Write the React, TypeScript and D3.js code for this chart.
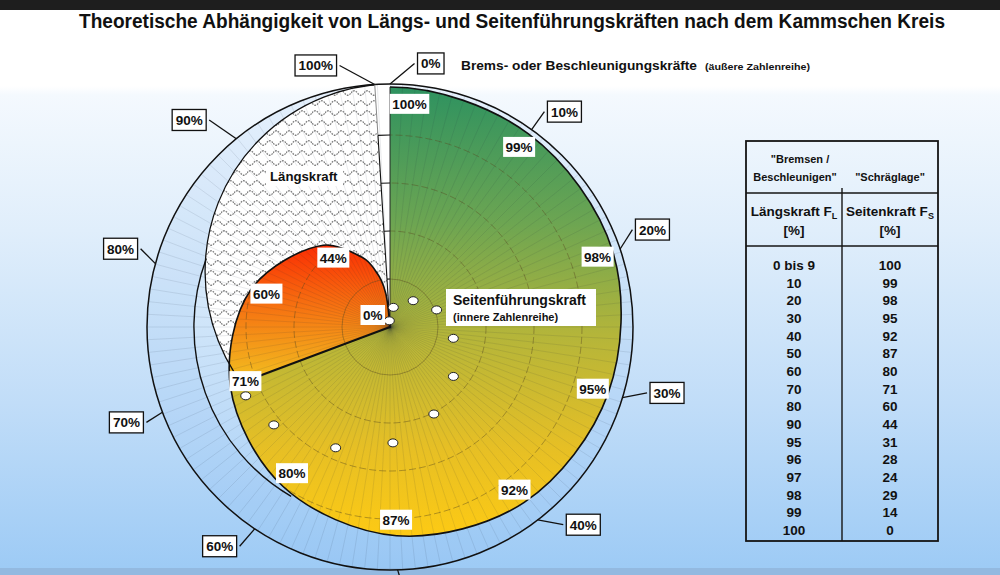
import React from 'react';
import * as d3 from 'd3';

// Kammscher Kreis: Längskraft (äußere Zahlenreihe) -> Seitenführungskraft (innere Zahlenreihe), in %
const longForce = [0, 10, 20, 30, 40, 50, 60, 70, 80, 90, 95, 96, 97, 98, 99, 100];
const sideForce = [100, 99, 98, 95, 92, 87, 80, 71, 60, 44, 31, 28, 24, 20, 14, 0];

// table as printed
const tableLong = ['0 bis 9', '10', '20', '30', '40', '50', '60', '70', '80', '90', '95', '96', '97', '98', '99', '100'];
const tableSide = ['100', '99', '98', '95', '92', '87', '80', '71', '60', '44', '31', '28', '24', '29', '14', '0'];

// labelled points of the inner curve (Längskraft %)
const curveLabels = [0, 10, 20, 30, 40, 50, 60, 70, 80, 90, 100];
// outer scale
const outerTicks = [0, 10, 20, 30, 40, 50, 60, 70, 80, 90, 100];
// white markers (Längs-%, Seiten-%)
const markerLong = [2.7, 11.6, 19.6, 28.1, 35.9, 43.0, 50.1, 57.3, 64.5, 68.6, 99.2];
const markerSide = [8.3, 14.6, 20.7, 26.8, 33.5, 40.6, 48.3, 55.2, 63.3, 66.6, 2.6];
const rings = [20, 40, 60, 80];

// leader lines of the outer labels: tilt against the radius (deg) and length (px)
const leaderTilt = [50, 0, -39, -28, -42, -15, 7, -12, 30, -16, -58];
const leaderLen = [32, 22, 23, 25, 26, 16, 23, 19, 21, 33, 40];

const W = 1000;
const H = 575;
const CX = 390;
const CY = 327;
const FONT = '"Liberation Sans", Arial, Helvetica, sans-serif';

const charW = (c: string) => (/[0-9]/.test(c) ? 0.556 : c === '%' ? 0.889 : c === ' ' ? 0.278 : 0.6);
const textWidth = (s: string, fs: number) => s.split('').reduce((a, c) => a + charW(c), 0) * fs;

type Pt = { L: number; S: number };

const App: React.FC = () => {
  const deg = Math.PI / 180;
  const aScale = d3.scaleLinear().domain([0, 100]).range([0, 2 * Math.PI * 0.99]);
  const rScale = d3.scaleLinear().domain([0, 100]).range([0, 240]);
  const rA = rScale(101.25);
  const rB = rScale(81.7);
  const hc = { x: 3, y: -rScale(23), r: rScale(78.3) }; // Längskraft-Kreis

  const pol = (a: number, r: number): [number, number] => [Math.sin(a) * r, -Math.cos(a) * r];
  const arcPath = (r: number, a0: number, a1: number) => {
    const p = d3.path();
    p.arc(0, 0, r, a0 - Math.PI / 2, a1 - Math.PI / 2);
    return p.toString();
  };
  const sector = (r0: number, r1: number, a0: number, a1: number) =>
    d3.arc<any>()({ innerRadius: r0, outerRadius: r1, startAngle: a0, endAngle: a1 }) as string;

  const pts: Pt[] = longForce.map((L, i) => ({ L, S: sideForce[i] }));
  // braking / accelerating symmetry: the mirrored 10 % point only steers the tangent at 0 %
  const guide: Pt[] = [{ L: -pts[1].L, S: pts[1].S }, ...pts, pts[pts.length - 1]];
  const lineGen = d3
    .lineRadial<Pt>()
    .angle((d) => aScale(d.L))
    .radius((d) => rScale(d.S))
    .curve(d3.curveCatmullRomOpen);

  const outline = lineGen(guide) as string;
  const curveArea = outline + 'L0,0Z';

  const greenWedge = sector(0, 400, aScale(0), aScale(70));
  const redWedge = sector(0, 400, aScale(70), aScale(100));
  const hatchWedge = sector(0, 400, aScale(70), aScale(100));
  const gapWedge = sector(0, rA, aScale(100), 2 * Math.PI);
  const bSector = sector(0, rB, aScale(59), aScale(81.5));

  const spokes = d3.range(0, 360, 3).map((d) => d * deg);
  const line70 = pol(aScale(70), rScale(sideForce[longForce.indexOf(70)]));

  const lbl = { fontFamily: FONT, fontWeight: 700, fill: '#111' } as const;

  return (
    <svg width={W} height={H} style={{ position: 'absolute', left: 0, top: 0 }} viewBox={`0 0 ${W} ${H}`}>
      <defs>
        <linearGradient id="bg" gradientUnits="userSpaceOnUse" x1="0" y1="0" x2="0" y2={H}>
          <stop offset="0" stopColor="#ffffff" />
          <stop offset="0.15" stopColor="#ffffff" />
          <stop offset="0.165" stopColor="#f4f9fe" />
          <stop offset="0.4" stopColor="#e0eefb" />
          <stop offset="0.7" stopColor="#c1ddf8" />
          <stop offset="1" stopColor="#9ccaf5" />
        </linearGradient>
        <linearGradient id="bgLocal" gradientUnits="userSpaceOnUse" x1="0" y1={-CY} x2="0" y2={H - CY}>
          <stop offset="0" stopColor="#ffffff" />
          <stop offset="0.15" stopColor="#ffffff" />
          <stop offset="0.165" stopColor="#f4f9fe" />
          <stop offset="0.4" stopColor="#e0eefb" />
          <stop offset="0.7" stopColor="#c1ddf8" />
          <stop offset="1" stopColor="#9ccaf5" />
        </linearGradient>
        <linearGradient id="green" gradientUnits="userSpaceOnUse" x1="0" y1={-240} x2="0" y2={210}>
          <stop offset="0" stopColor="#2e9260" />
          <stop offset="0.3" stopColor="#6ca552" />
          <stop offset="0.55" stopColor="#b4b53a" />
          <stop offset="0.8" stopColor="#e6bf25" />
          <stop offset="1" stopColor="#fdca14" />
        </linearGradient>
        <linearGradient id="red" gradientUnits="userSpaceOnUse" x1="0" y1={-92} x2="0" y2={55}>
          <stop offset="0" stopColor="#fb2200" />
          <stop offset="0.45" stopColor="#f66c10" />
          <stop offset="1" stopColor="#f2c020" />
        </linearGradient>
        <pattern id="wave" width="13" height="20" patternUnits="userSpaceOnUse">
          <path d="M0,6 q3.25,-4.5 6.5,0 t6.5,0" fill="none" stroke="#808080" strokeWidth="1.3" strokeDasharray="1.8 1" />
          <path d="M-6.5,16 q3.25,-4.5 6.5,0 t6.5,0 t6.5,0" fill="none" stroke="#808080" strokeWidth="1.3" strokeDasharray="1.8 1" />
        </pattern>
        <clipPath id="clipGreen"><path d={greenWedge} /></clipPath>
        <clipPath id="clipRed"><path d={redWedge} /></clipPath>
        <clipPath id="clipHatch"><path d={hatchWedge} /></clipPath>
        <clipPath id="clipColor"><path d={curveArea} /></clipPath>
      </defs>

      <rect x={0} y={0} width={W} height={H} fill="url(#bg)" />
      <rect x={0} y={0} width={W} height={10} fill="#1e1e1e" />
      <rect x={0} y={568} width={W} height={7} fill="#93b9e0" />

      <g transform={`translate(${CX},${CY})`}>
        {/* outer band */}
        <circle r={rA} fill="rgba(120,180,240,0.13)" />
        <path d={bSector} fill="url(#bgLocal)" />

        {/* Längskraft area */}
        <g clipPath="url(#clipHatch)">
          <circle cx={hc.x} cy={hc.y} r={hc.r} fill="#ffffff" />
          <circle cx={hc.x} cy={hc.y} r={hc.r} fill="url(#wave)" />
        </g>
        <path d={gapWedge} fill="#ffffff" />

        {/* Seitenführungskraft area */}
        <g clipPath="url(#clipGreen)">
          <path d={curveArea} fill="url(#green)" />
        </g>
        <g clipPath="url(#clipRed)">
          <path d={curveArea} fill="url(#red)" />
        </g>

        <g clipPath="url(#clipColor)" fill="none">
          {rings.map((s, i) => (
            <circle
              key={s}
              r={rScale(s)}
              stroke="#5a4a20"
              strokeOpacity={0.55}
              strokeWidth={0.8}
              strokeDasharray={i === 0 ? undefined : '7 3'}
            />
          ))}
        </g>

        {spokes.map((a, i) => {
          const [x, y] = pol(a, rA);
          return <line key={i} x1={0} y1={0} x2={x} y2={y} stroke="#1a2a40" strokeOpacity={0.17} strokeWidth={0.6} />;
        })}

        {/* outlines */}
        <circle r={rA} fill="none" stroke="#111" strokeWidth={1.5} />
        <path d={arcPath(rB, aScale(59), aScale(81.5))} fill="none" stroke="#111" strokeWidth={1.4} />
        <g clipPath="url(#clipHatch)">
          <circle cx={hc.x} cy={hc.y} r={hc.r} fill="none" stroke="#111" strokeWidth={1.3} />
        </g>
        <path d={outline} fill="none" stroke="#111" strokeWidth={1.6} />
        <line x1={0} y1={0} x2={line70[0]} y2={line70[1]} stroke="#111" strokeWidth={2.2} />
        <line x1={0} y1={0} x2={0} y2={-rScale(100)} stroke="#222" strokeWidth={0.9} />
        {(() => {
          const [x80, y80] = pol(aScale(100), rScale(80));
          const [xt, yt] = pol(aScale(100), rA);
          return (
            <g>
              <line x1={0} y1={0} x2={x80} y2={y80} stroke="#111" strokeWidth={1.1} />
              <line x1={x80} y1={y80} x2={xt} y2={yt} stroke="#888" strokeWidth={1} />
            </g>
          );
        })()}
        {rings.map((s) => {
          const [x, y] = pol(aScale(100), rScale(s));
          return <line key={s} x1={x} y1={y} x2={0} y2={-rScale(s)} stroke="#111" strokeWidth={1.1} />;
        })}

        {/* markers */}
        {markerLong.map((L, i) => {
          const [x, y] = pol(aScale(L), rScale(markerSide[i]));
          return <ellipse key={i} cx={x} cy={y} rx={5} ry={4} fill="#fff" stroke="#222" strokeWidth={1} />;
        })}

        {/* inner labels */}
        {curveLabels.map((L) => {
          const S = sideForce[longForce.indexOf(L)];
          const txt = `${S}%`;
          const bw = textWidth(txt, 13.5) + 5;
          const bh = 20;
          let x: number;
          let y: number;
          if (S === 0) {
            x = -bw / 2 - 5;
            y = -12;
          } else {
            [x, y] = pol(aScale(L) + (L === 0 ? 5 * deg : 0), rScale(S) - 16);
          }
          return (
            <g key={L}>
              <rect x={x - bw / 2} y={y - bh / 2} width={bw} height={bh} fill="#fff" />
              <text x={x} y={y + 5} textAnchor="middle" fontSize={13.5} {...lbl}>{txt}</text>
            </g>
          );
        })}

        {/* outer labels */}
        {outerTicks.map((L, i) => {
          const a = aScale(L);
          const [sx, sy] = pol(a, rA);
          const d = a + leaderTilt[i] * deg;
          const ex = sx + Math.sin(d) * leaderLen[i];
          const ey = sy - Math.cos(d) * leaderLen[i];
          const txt = `${L}%`;
          const bw = textWidth(txt, 13.5) + 7;
          const bh = 21;
          const right = Math.sin(d) >= 0;
          const bx = right ? ex + 3 : ex - 3 - bw;
          const by = ey - bh / 2;
          const visible = CY + by < H - 4;
          return (
            <g key={L}>
              <line x1={sx} y1={sy} x2={ex} y2={ey} stroke="#111" strokeWidth={1.3} />
              {visible && (
                <g>
                  <rect x={bx} y={by} width={bw} height={bh} fill="#fff" stroke="#111" strokeWidth={1.3} />
                  <text x={bx + bw / 2} y={by + bh / 2 + 5} textAnchor="middle" fontSize={13.5} {...lbl}>{txt}</text>
                </g>
              )}
            </g>
          );
        })}
      </g>

      {/* annotations */}
      <rect x={446} y={289} width={150} height={37} fill="#fff" />
      <text x={453} y={305} fontSize={14} {...lbl}>Seitenführungskraft</text>
      <text x={453} y={321} fontSize={11} {...lbl}>(innere Zahlenreihe)</text>
      <rect x={266} y={166} width={77} height={20} fill="#fff" />
      <text x={270} y={181} fontSize={13.2} {...lbl}>Längskraft</text>

      <text x={512} y={28} textAnchor="middle" fontSize={20} textLength={866} lengthAdjust="spacingAndGlyphs" {...lbl}>
        Theoretische Abhängigkeit von Längs- und Seitenführungskräften nach dem Kammschen Kreis
      </text>
      <text x={461} y={70} fontSize={12.5} textLength={236} lengthAdjust="spacingAndGlyphs" {...lbl}>
        Brems- oder Beschleunigungskräfte
      </text>
      <text x={705} y={70} fontSize={9.5} textLength={105} lengthAdjust="spacingAndGlyphs" {...lbl}>
        (äußere Zahlenreihe)
      </text>

      {/* table */}
      <g>
        <rect x={746} y={141} width={192} height={400} fill="none" stroke="#151515" strokeWidth={1.8} />
        <line x1={746} y1={193} x2={938} y2={193} stroke="#151515" strokeWidth={1.6} />
        <line x1={746} y1={246} x2={938} y2={246} stroke="#151515" strokeWidth={1.6} />
        <line x1={842} y1={188} x2={842} y2={541} stroke="#151515" strokeWidth={1.4} />
        <text x={800} y={163} textAnchor="middle" fontSize={11} {...lbl}>"Bremsen /</text>
        <text x={795} y={181} textAnchor="middle" fontSize={11} {...lbl}>Beschleunigen"</text>
        <text x={890} y={181} textAnchor="middle" fontSize={11} {...lbl}>"Schräglage"</text>
        <text x={794} y={216} textAnchor="middle" fontSize={13.5} {...lbl}>
          Längskraft F<tspan fontSize={9} dy={3}>L</tspan>
        </text>
        <text x={890} y={216} textAnchor="middle" fontSize={13.5} {...lbl}>
          Seitenkraft F<tspan fontSize={9} dy={3}>S</tspan>
        </text>
        <text x={794} y={235} textAnchor="middle" fontSize={13.5} {...lbl}>[%]</text>
        <text x={890} y={235} textAnchor="middle" fontSize={13.5} {...lbl}>[%]</text>
        {tableLong.map((t, i) => (
          <g key={i}>
            <text x={794} y={265 + i * 17.67 + 5} textAnchor="middle" fontSize={13.5} {...lbl}>{t}</text>
            <text x={890} y={265 + i * 17.67 + 5} textAnchor="middle" fontSize={13.5} {...lbl}>{tableSide[i]}</text>
          </g>
        ))}
      </g>
    </svg>
  );
};

export default App;
